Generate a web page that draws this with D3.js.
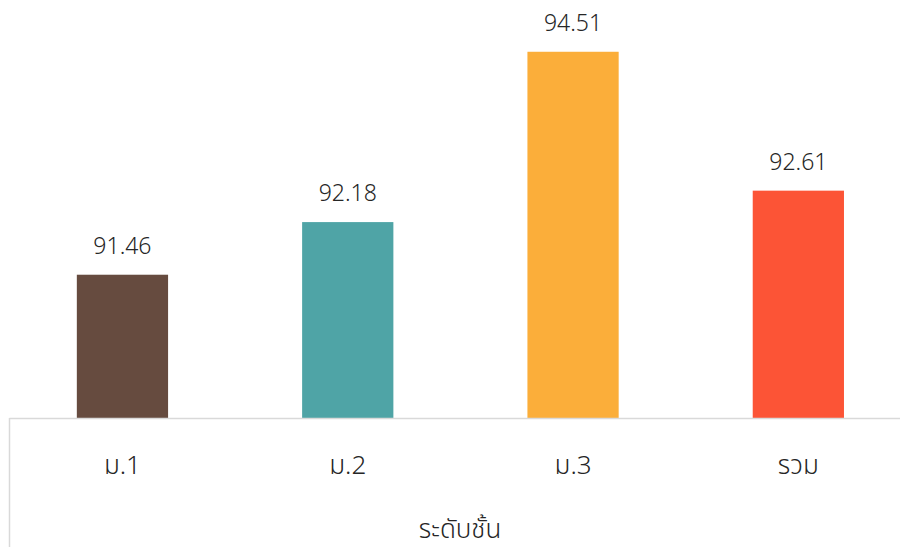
<!DOCTYPE html>
<html><head><meta charset="utf-8">
<script src="https://cdn.jsdelivr.net/npm/d3@7"></script>
<style>body{margin:0;background:#fff;} svg{display:block;font-family:"Noto Sans","Noto Sans Thai",Tahoma,sans-serif;font-weight:300;}</style>
</head><body>
<script>
const categories = ["ม.1", "ม.2", "ม.3", "รวม"];
const values = [91.46, 92.18, 94.51, 92.61];
const colors = ["#664B3F", "#4FA4A6", "#FBAE3A", "#FC5436"];
const axisTitle = "ระดับชั้น";

const W = 900, H = 547;
const svg = d3.select("body").append("svg").attr("width", W).attr("height", H);
const base = 418;
const x = d3.scaleBand().domain(categories).range([9.8, 911]).paddingInner(0.595).paddingOuter(0.2975);
const y = d3.scaleLinear().domain([89.5, 95.5]).range([base, base - 6 * 73.1]);

svg.selectAll("rect.bar").data(values).join("rect").attr("class", "bar")
  .attr("x", (d, i) => x(categories[i]))
  .attr("width", x.bandwidth())
  .attr("y", d => y(d))
  .attr("height", d => base - y(d))
  .attr("fill", (d, i) => colors[i]);

svg.selectAll("text.val").data(values).join("text").attr("class", "val")
  .attr("x", (d, i) => x(categories[i]) + x.bandwidth() / 2)
  .attr("y", d => y(d) - 21)
  .attr("text-anchor", "middle")
  .attr("font-size", 23)
  .attr("fill", "#262626")
  .text(d => d.toFixed(2));

// axis lines
svg.append("line").attr("x1", 9.5).attr("x2", W).attr("y1", base + 0.5).attr("y2", base + 0.5)
  .attr("stroke", "#d9d9d9").attr("stroke-width", 1.5);
svg.append("line").attr("x1", 9.5).attr("x2", 9.5).attr("y1", base).attr("y2", H)
  .attr("stroke", "#d9d9d9").attr("stroke-width", 1.5);

svg.selectAll("text.cat").data(categories).join("text").attr("class", "cat")
  .attr("x", d => x(d) + x.bandwidth() / 2)
  .attr("y", 474)
  .attr("text-anchor", "middle")
  .attr("font-size", 26)
  .attr("fill", "#262626")
  .text(d => d);

svg.append("text").attr("x", 460).attr("y", 538).attr("text-anchor", "middle")
  .attr("font-size", 26).attr("fill", "#262626").text(axisTitle);
</script>
</body></html>
